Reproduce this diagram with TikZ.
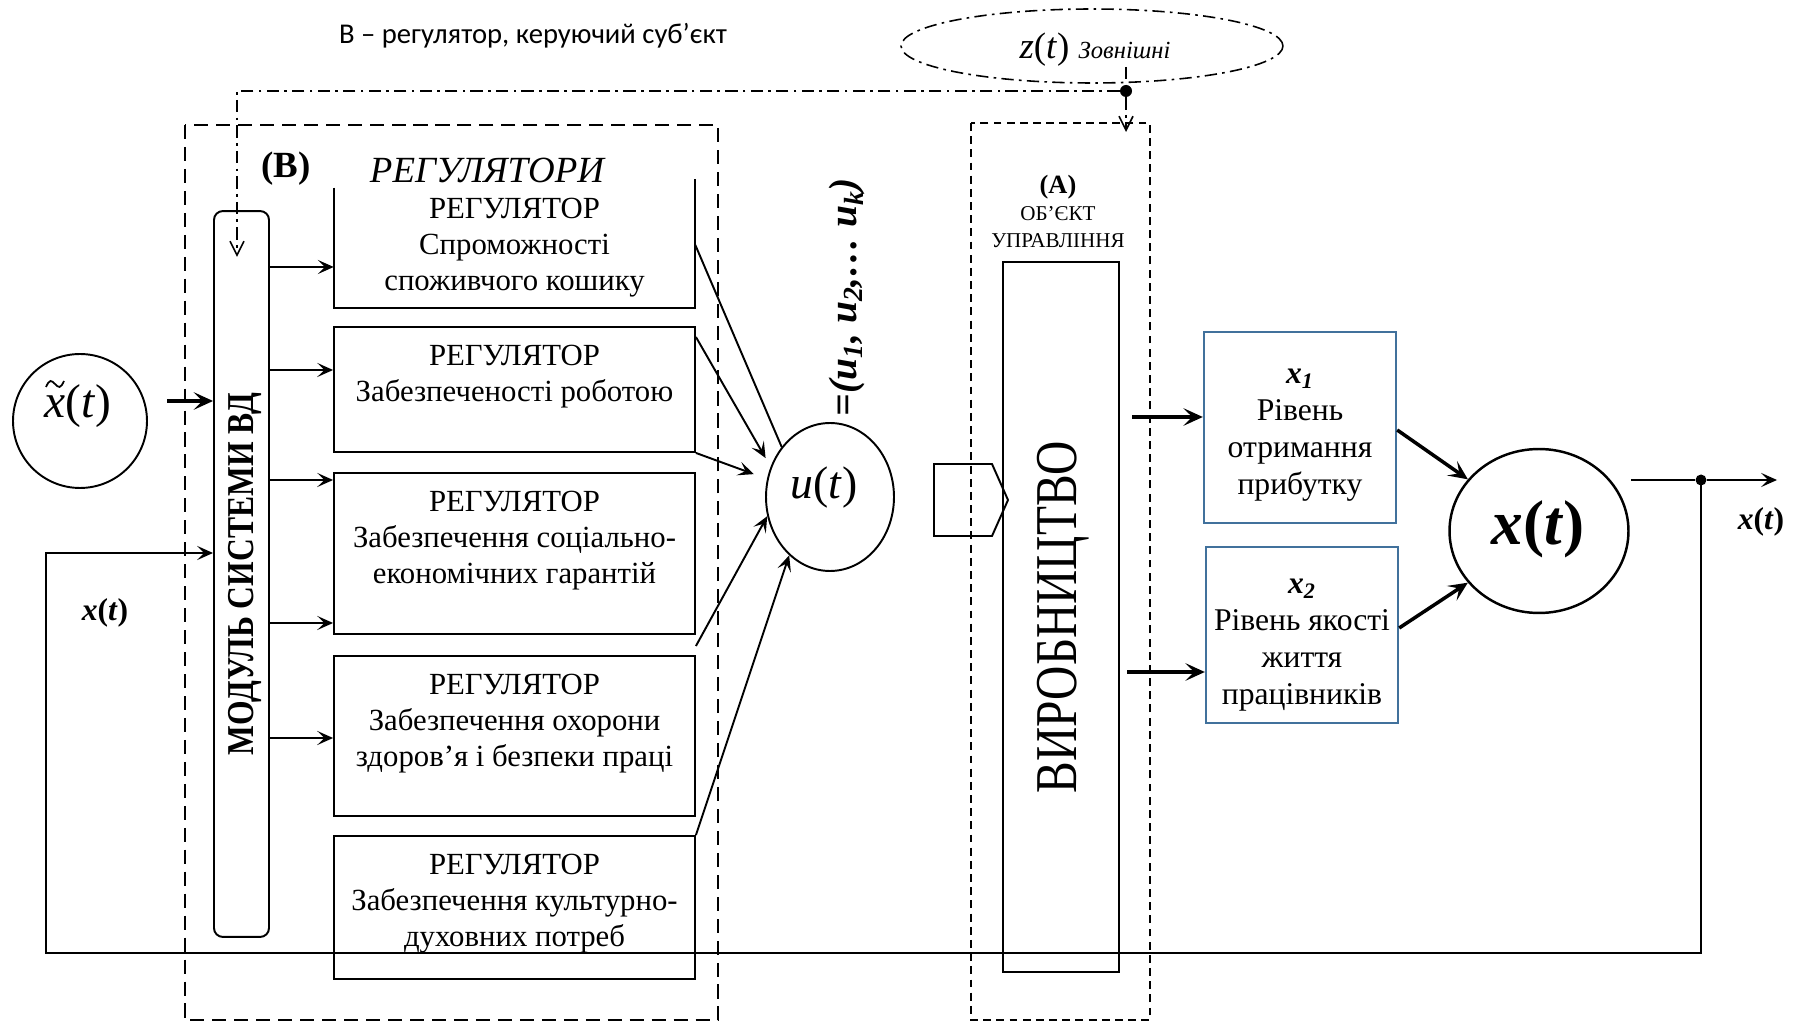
\documentclass[tikz,border=0pt]{standalone}
\usepackage{fontspec}
\usepackage{graphicx}
\setmainfont{Liberation Serif}
\newfontfamily\capfont{Carlito}
\usetikzlibrary{arrows.meta,shapes.geometric}
\definecolor{xblue}{HTML}{41719C}

\begin{document}
\begin{tikzpicture}[x=0.02cm,y=-0.02cm,
  every node/.style={inner sep=0pt},
  regbox/.style={draw,line width=1.1pt,minimum width=7.22cm},
  regtext/.style={align=center,anchor=north,font=\fontsize{17.5}{20.5}\selectfont},
  xbox/.style={draw=xblue,line width=1.1pt,minimum width=3.85cm},
  xtext/.style={align=center,font=\fontsize{18}{21}\selectfont},
  arr/.style={line width=1.1pt,-{Stealth[length=9pt,width=8pt,inset=4pt]}},
  barr/.style={line width=2pt,-{Stealth[length=11pt,width=10pt,inset=5pt]}},
  ddot/.style={line width=0.9pt,dash pattern=on 7pt off 3pt on 1.5pt off 3pt},
  vtip/.style={-{Straight Barb[length=8pt,width=8pt]}}]
  \useasboundingbox (0,0) rectangle (1793,1023);

  \node[font=\capfont\fontsize{16.3}{19}\selectfont] (cap) at (533,36) {В – регулятор, керуючий суб’єкт};

  % frames of (B) and (A)
  \draw[line width=1.6pt,dash pattern=on 8pt off 4.5pt] (185,125) rectangle (718,1020);
  \draw[line width=0.8pt,dash pattern=on 4.5pt off 3pt] (971,123) rectangle (1150,1020);

  \node[draw,ellipse,ddot,minimum width=7.64cm,minimum height=1.48cm] (zext) at (1092,46) {};
  \node (ztxt) at (1095,50) {\fontsize{21}{24}\selectfont\textit{z}(\textit{t}) \fontsize{14}{16}\selectfont\textit{Зовнішні}};

  \node[font=\bfseries\fontsize{21}{24}\selectfont] (blbl) at (286,169) {(B)};
  \node[font=\itshape\fontsize{21}{24}\selectfont] (regs) at (487,170) {РЕГУЛЯТОРИ};

  \node[draw,line width=1.1pt,rounded corners=5pt,minimum width=1.1cm,minimum height=14.52cm] (mod) at (241.5,574) {};
  \node[rotate=90,font=\bfseries\fontsize{18}{20}\selectfont] (modtxt) at (245,574) {\scalebox{1}[1.2]{МОДУЛЬ СИСТЕМИ ВД}};

  % regulators
  \node[minimum width=7.22cm,minimum height=2.58cm] (reg1) at (514.5,243.5) {};
  \draw[line width=1.1pt] ([yshift=-0.18cm]reg1.north west) -- (reg1.south west) -- (reg1.south east) -- (reg1.north east);
  \node[regbox,minimum height=2.5cm] (reg2) at (514.5,389.5) {};
  \node[regbox,minimum height=3.22cm] (reg3) at (514.5,553.5) {};
  \node[regbox,minimum height=3.2cm] (reg4) at (514.5,736) {};
  \node[regbox,minimum height=2.86cm] (reg5) at (514.5,907.5) {};
  \node[regtext] (reg1t) at ([yshift=-0.38cm]reg1.north) {РЕГУЛЯТОР\\Спроможності\\споживчого кошику};
  \node[regtext] (reg2t) at ([yshift=-0.38cm]reg2.north) {РЕГУЛЯТОР\\Забезпеченості роботою};
  \node[regtext] (reg3t) at ([yshift=-0.38cm]reg3.north) {РЕГУЛЯТОР\\Забезпечення соціально-\\економічних гарантій};
  \node[regtext] (reg4t) at ([yshift=-0.38cm]reg4.north) {РЕГУЛЯТОР\\Забезпечення охорони\\здоров’я і безпеки праці};
  \node[regtext] (reg5t) at ([yshift=-0.38cm]reg5.north) {РЕГУЛЯТОР\\Забезпечення культурно-\\духовних потреб};

  \draw[arr] (mod.east |- 0,267) -- (reg1.west |- 0,267);
  \draw[arr] (mod.east |- 0,370) -- (reg2.west |- 0,370);
  \draw[arr] (mod.east |- 0,480) -- (reg3.west |- 0,480);
  \draw[arr] (mod.east |- 0,623) -- (reg3.west |- 0,623);
  \draw[arr] (mod.east |- 0,738) -- (reg4.west |- 0,738);

  % control vector
  \node[draw,ellipse,line width=1.1pt,minimum width=2.56cm,minimum height=2.96cm] (ut) at (830,497) {};
  \node[font=\fontsize{26}{30}\selectfont] (uttxt) at (824,488) {\textit{u}(\textit{t})};
  \node[rotate=90,font=\bfseries\itshape\fontsize{22.5}{25}\selectfont] (uvec) at (847,297) {=(u\textsubscript{1}, u\textsubscript{2},\dots\ u\textsubscript{k})};
  \draw[line width=1.1pt] (reg1.east |- 0,245) -- (ut.134);
  \draw[arr,shorten >=0.2cm] (reg2.east |- 0,337) -- (ut.153);
  \draw[arr,shorten >=0.28cm] (reg2.south east) -- (ut.164);
  \draw[arr] (reg3.east |- 0,646) -- (ut.197);
  \draw[arr] (reg5.north east) -- (ut.235);

  \draw[line width=1.1pt] (934,464) -- (992,464) -- (1008,500) -- (992,536) -- (934,536) -- cycle;

  % object
  \node[font=\bfseries\fontsize{15}{18}\selectfont] (alb) at (1058,187) {(A)};
  \node[align=center,font=\fontsize{12}{15.4}\selectfont] (objA) at (1058,227) {ОБ’ЄКТ\\УПРАВЛІННЯ};
  \node[draw,line width=1.1pt,minimum width=2.32cm,minimum height=14.2cm] (prod) at (1061,617) {};
  \node[rotate=90] (prodtxt) at (1063,617) {\fontsize{27}{30}\selectfont\scalebox{1}[1.25]{ВИРОБНИЦТВО}};

  \node[xbox,minimum height=3.82cm] (x1) at (1300,427.5) {};
  \node[xbox,minimum height=3.52cm] (x2) at (1302,635) {};
  \node[xtext] (x1t) at (1300,435) {\textbf{\textit{x\textsubscript{1}}}\\Рівень\\отримання\\прибутку};
  \node[xtext] (x2t) at (1302,645) {\textbf{\textit{x\textsubscript{2}}}\\Рівень якості\\життя\\працівників};
  \coordinate (p1) at (1132,417);
  \coordinate (p2) at (1127,672);
  \draw[barr] (p1) -- (x1.west |- p1);
  \draw[barr] (p2) -- (x2.west |- p2);

  \node[draw,ellipse,line width=1.4pt,minimum width=3.58cm,minimum height=3.28cm] (xt) at (1539,531) {};
  \node[font=\bfseries\fontsize{36}{40}\selectfont] (xttxt) at (1538,529) {\textit{x}(\textit{t})};
  \draw[barr] (x1.east |- 0,430) -- (xt.144);
  \draw[barr] (x2.east |- 0,628) -- (xt.216);

  % output and feedback
  \coordinate (o0) at (1631,480);
  \node[circle,fill,minimum size=0.22cm] (fb) at (1701,480) {};
  \coordinate (o1) at (1777,480);
  \draw[line width=1.1pt] (o0) -- (fb);
  \draw[arr] (fb) -- (o1);
  \node[font=\bfseries\fontsize{18}{20}\selectfont] (xout) at (1761,522) {\textit{x}(\textit{t})};
  \coordinate (fb1) at (1701,953);
  \coordinate (fb2) at (46,953);
  \coordinate (fb3) at (46,553);
  \draw[arr,line width=1.3pt] (fb.center) -- (fb1) -- (fb2) -- (fb3) -- (mod.west |- fb3);
  \node[font=\bfseries\fontsize{18}{20}\selectfont] (xfb) at (105,613) {\textit{x}(\textit{t})};

  \node[draw,ellipse,line width=1.1pt,minimum size=2.68cm] (xtil) at (80,421) {};
  \node[font=\fontsize{27}{30}\selectfont] (xtiltxt) at (78,406) {\textit{x}(\textit{t})};
  % tilde over x
  \draw[line width=1pt] (46,387) sin (50.5,381) cos (55,384) sin (59.5,387) cos (64,381);
  \coordinate (xin) at (167,401);
  \draw[barr] (xin) -- (mod.west |- xin);

  % disturbance z(t)
  \coordinate (z0) at (1126,67);
  \node[circle,fill,minimum size=0.24cm] (zdot) at (1126,91) {};
  \coordinate (z1) at (1126,132);
  \coordinate (z2) at (237,91);
  \coordinate (z3) at (237,257);
  \draw[ddot] (z0) -- (zdot);
  \draw[ddot,vtip] (zdot) -- (z1);
  \draw[ddot,vtip] (zdot) -- (z2) -- (z3);
\end{tikzpicture}
\end{document}
